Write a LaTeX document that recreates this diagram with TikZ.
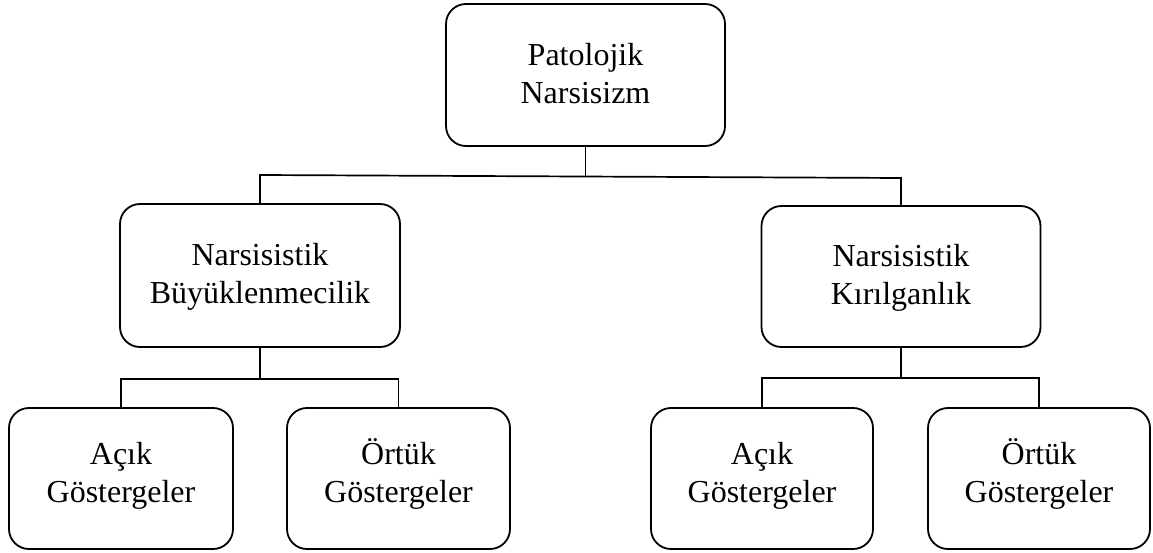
\documentclass[tikz,border=0pt]{standalone}
\usepackage{fontspec}
\setmainfont{Liberation Serif}
\newcommand{\twoline}[3]{\rule{0pt}{28pt}#1\\#2\rule[-#3]{0pt}{#3}}
\tikzset{
  box/.style={draw=black, line width=1.8pt, rounded corners=20pt, inner sep=0pt,
              align=center, font=\fontsize{32}{38}\selectfont},
  conn/.style={draw=black, line width=1.7pt}
}
\begin{document}
\begin{tikzpicture}[x=1pt, y=-1pt]
\useasboundingbox (0,0) rectangle (1153,553);
% boxes
\node[box, minimum width=279pt, minimum height=142pt] (top) at (585.5,75) {\twoline{Patolojik}{Narsisizm}{8pt}};
\node[box, minimum width=280pt, minimum height=143pt] (ml) at (260,275.5) {\twoline{Narsisistik}{Büyüklenmecilik}{10pt}};
\node[box, minimum width=279pt, minimum height=141pt] (mr) at (901,276.5) {\twoline{Narsisistik}{Kırılganlık}{10pt}};
\node[box, minimum width=224pt, minimum height=141pt] (b1) at (121,478.5) {\twoline{Açık}{Göstergeler}{19pt}};
\node[box, minimum width=223pt, minimum height=141pt] (b2) at (398.5,478.5) {\twoline{Örtük}{Göstergeler}{19pt}};
\node[box, minimum width=222pt, minimum height=141pt] (b3) at (762,478.5) {\twoline{Açık}{Göstergeler}{19pt}};
\node[box, minimum width=222pt, minimum height=141pt] (b4) at (1039,478.5) {\twoline{Örtük}{Göstergeler}{19pt}};
% connectors
\coordinate (tj) at (585.5,176.5);
\coordinate (bl) at (260,175);
\coordinate (br) at (901,178);
\draw[conn] (top.south) -- (tj);
\draw[conn] (ml.north) -- (bl) -- (br) -- (mr.north);
\coordinate (lj) at (260,379);
\draw[conn] (ml.south) -- (lj);
\draw[conn] (b1.north) |- (lj) -| (b2.north);
\coordinate (rj) at (901,378);
\draw[conn] (mr.south) -- (rj);
\draw[conn] (b3.north) |- (rj) -| (b4.north);
\end{tikzpicture}
\end{document}
